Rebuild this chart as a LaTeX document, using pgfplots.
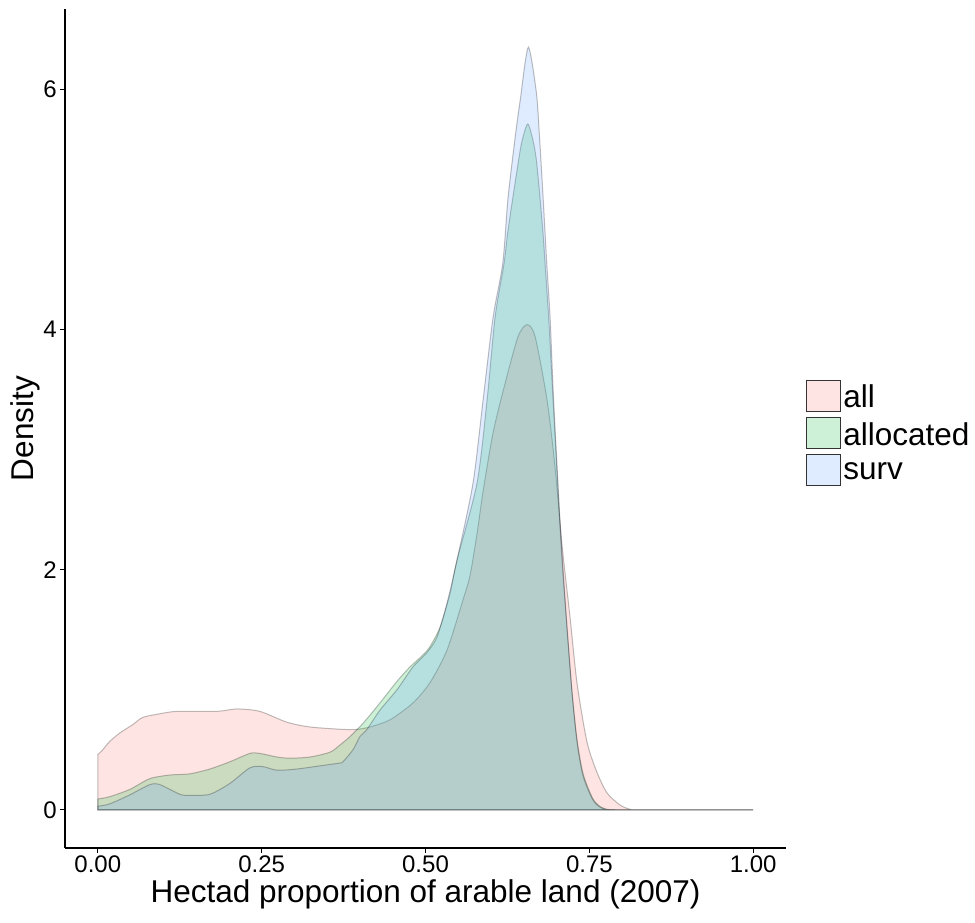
\documentclass[border=0pt]{standalone}
\usepackage{fontspec}
\setmainfont{Liberation Sans}
\usepackage{pgfplots}
\pgfplotsset{compat=1.18}

\definecolor{allc}{HTML}{F8766D}
\definecolor{allocc}{HTML}{00BA38}
\definecolor{survc}{HTML}{619CFF}

\begin{document}
\begin{tikzpicture}
\begin{axis}[
    name=ax,
    scale only axis,
    width=721pt,
    height=839pt,
    xmin=-0.05, xmax=1.05,
    ymin=-0.3175, ymax=6.6675,
    axis x line*=bottom,
    axis y line*=left,
    axis line style={black, line width=1.1pt},
    xtick={0,0.25,0.5,0.75,1},
    xticklabels={0.00,0.25,0.50,0.75,1.00},
    ytick={0,2,4,6},
    tick align=outside,
    major tick length=5pt,
    tick style={black, line width=1.1pt},
    tick label style={font=\fontsize{24}{28}\selectfont, black},
    yticklabel style={inner sep=3pt},
    xticklabel style={inner sep=3pt},
    /pgf/number format/assume math mode=true,
    label style={font=\fontsize{31.5}{38}\selectfont},
    xlabel={Hectad proportion of arable land (2007)},
    ylabel={Density},
    ylabel style={yshift=-3pt},
    legend style={at={(1,0.4946)}, anchor=west, xshift=20pt,
        draw=none, fill=none, inner sep=0pt, row sep=5pt, column sep=2pt,
        font=\fontsize{31.5}{38}\selectfont, nodes={inner sep=0pt}},
    legend cell align=left,
    legend image code/.code={\draw[#1, draw=black!80, draw opacity=1, line width=1.2pt] (0pt,-14pt) rectangle (34pt,17pt);},
    every axis plot/.append style={smooth, tension=0.45, draw=black, draw opacity=0.25, line width=1pt, fill opacity=0.2},
]
\addplot[fill=allc] coordinates {
(0,0.46) (0.0076,0.50) (0.0183,0.57) (0.0336,0.64) (0.0534,0.71) (0.0687,0.77)
(0.0947,0.80) (0.1206,0.82) (0.1817,0.82) (0.2122,0.84) (0.2473,0.82) (0.2885,0.73)
(0.3237,0.69) (0.3740,0.67) (0.3954,0.67) (0.4153,0.69) (0.4458,0.75) (0.4809,0.89)
(0.5069,1.06) (0.5328,1.33) (0.5573,1.75) (0.5679,1.95) (0.5786,2.30) (0.5878,2.65)
(0.6031,3.14) (0.6214,3.55) (0.6412,3.94) (0.6550,4.04) (0.6672,3.94) (0.6855,3.41)
(0.6977,2.85) (0.7084,2.20) (0.7206,1.60) (0.7313,1.05) (0.7466,0.56) (0.7618,0.31)
(0.7771,0.14) (0.7969,0.04) (0.8122,0.005) (0.83,0) (1,0)
} \closedcycle;
\addlegendentry{all}
\addplot[fill=allocc] coordinates {
(0,0.09) (0.0183,0.11) (0.0489,0.17) (0.0794,0.26) (0.1099,0.29) (0.1405,0.30)
(0.1710,0.34) (0.2015,0.40) (0.2321,0.47) (0.2473,0.47) (0.2733,0.44) (0.2931,0.43)
(0.3237,0.44) (0.3542,0.48) (0.3695,0.54) (0.3847,0.61) (0.4046,0.72) (0.4305,0.89)
(0.4565,1.07) (0.4763,1.19) (0.4962,1.29) (0.5069,1.36) (0.5221,1.52) (0.5374,1.80)
(0.5481,2.08) (0.5786,2.72) (0.5939,3.41) (0.6061,4.10) (0.6198,4.55) (0.6260,4.83)
(0.6412,5.38) (0.6473,5.57) (0.6560,5.71) (0.6641,5.57) (0.6698,5.38) (0.6789,4.83)
(0.6824,4.55) (0.6885,4.05) (0.6947,3.40) (0.7008,2.80) (0.7053,2.35) (0.7099,1.95)
(0.7160,1.50) (0.7237,0.97) (0.7313,0.58) (0.7405,0.30) (0.7557,0.09) (0.7710,0.015)
(0.80,0) (1,0)
} \closedcycle;
\addlegendentry{allocated}
\addplot[fill=survc] coordinates {
(0,0.03) (0.0183,0.05) (0.0489,0.125) (0.0794,0.21) (0.0947,0.21) (0.1252,0.13)
(0.1405,0.12) (0.1710,0.13) (0.2015,0.22) (0.2321,0.35) (0.2519,0.36) (0.2733,0.33)
(0.3038,0.34) (0.3435,0.37) (0.3695,0.39) (0.3740,0.40) (0.3893,0.50) (0.4000,0.61)
(0.4107,0.67) (0.4305,0.83) (0.4565,1.00) (0.4809,1.19) (0.5023,1.31) (0.5176,1.44)
(0.5328,1.72) (0.5481,2.08) (0.5725,2.72) (0.5878,3.41) (0.6031,4.10) (0.6179,4.55)
(0.6260,5.10) (0.6382,5.66) (0.6453,5.94) (0.6519,6.22) (0.6570,6.35) (0.6626,6.22)
(0.6698,5.94) (0.6733,5.66) (0.6794,5.10) (0.6850,4.55) (0.6901,4.10) (0.6947,3.50)
(0.7008,2.85) (0.7053,2.40) (0.7099,2.00) (0.7160,1.52) (0.7237,0.97) (0.7313,0.56)
(0.7405,0.28) (0.7557,0.08) (0.7710,0.01) (0.80,0) (1,0)
} \closedcycle;
\addlegendentry{surv}
\end{axis}
\path ([xshift=-65pt,yshift=-75pt]ax.south west) rectangle ([xshift=189pt,yshift=9pt]ax.north east);
\end{tikzpicture}
\end{document}
